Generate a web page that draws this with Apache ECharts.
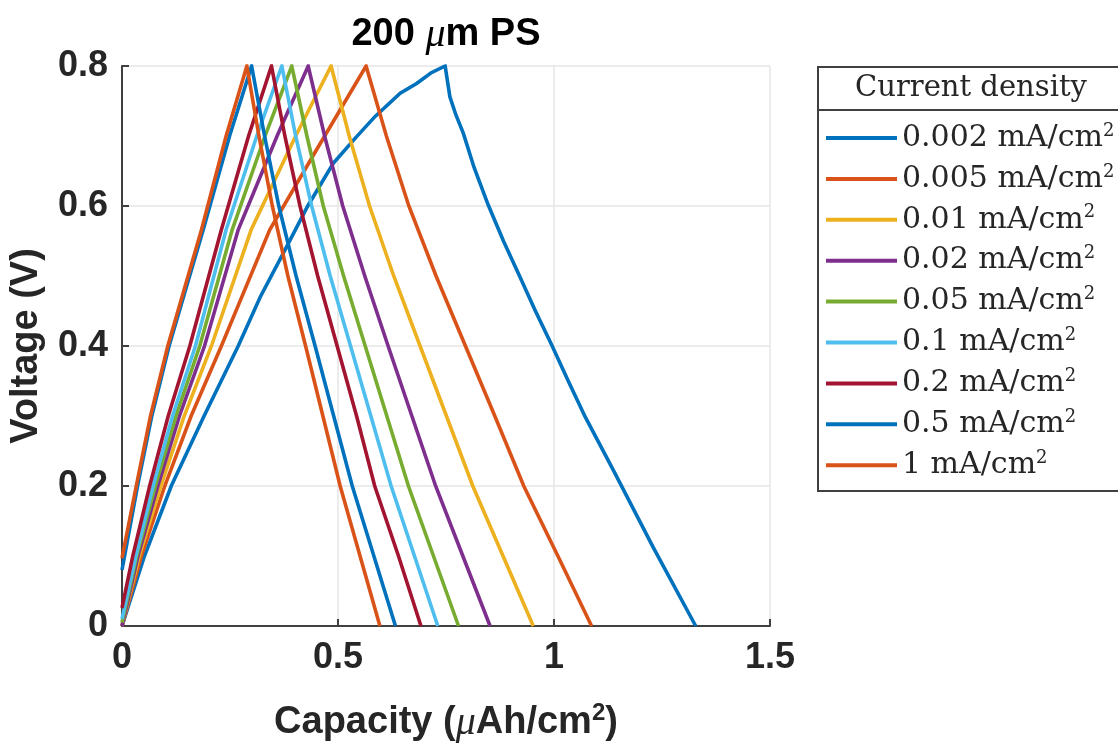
<!DOCTYPE html>
<html>
<head>
<meta charset="utf-8">
<script src="https://cdn.jsdelivr.net/npm/echarts@6/dist/echarts.min.js"></script>
<style>
html,body{margin:0;padding:0;background:#fff;}
#chart{width:1118px;height:746px;}
</style>
</head>
<body>
<div id="chart"></div>
<script>
// Current densities (mA/cm2) shown in the legend
const currentDensities = ['0.002', '0.005', '0.01', '0.02', '0.05', '0.1', '0.2', '0.5', '1'];
const lineColors = ['#0072BD', '#D95319', '#EDB120', '#7E2F8E', '#77AC30', '#4DBEEE', '#A2142F', '#0072BD', '#D95319'];
const xTicks = [0, 0.5, 1, 1.5];
const yTicks = [0, 0.2, 0.4, 0.6, 0.8];

// [capacity (uAh/cm2), voltage (V)] : charge up to 0.8 V then discharge to 0 V
const cd0002 = [[0,0],[0.052,0.1],[0.114,0.2],[0.190,0.3],[0.269,0.4],[0.320,0.47],[0.377,0.537],[0.430,0.6],[0.489,0.661],[0.540,0.697],[0.586,0.728],[0.644,0.761],[0.682,0.775],[0.715,0.79],[0.748,0.8],[0.759,0.756],[0.773,0.73],[0.790,0.704],[0.815,0.655],[0.848,0.601],[0.883,0.55],[0.921,0.499],[0.957,0.45],[0.995,0.401],[1.033,0.35],[1.072,0.299],[1.137,0.223],[1.230,0.112],[1.328,0]];
const cd0005 = [[0,0],[0.045,0.1],[0.099,0.2],[0.160,0.3],[0.230,0.4],[0.342,0.566],[0.450,0.68],[0.565,0.8],[0.612,0.7],[0.664,0.6],[0.727,0.5],[0.795,0.4],[0.863,0.3],[0.930,0.2],[1.009,0.1],[1.087,0]];
const cd001  = [[0,0],[0.040,0.1],[0.090,0.2],[0.144,0.3],[0.207,0.4],[0.299,0.566],[0.402,0.7],[0.484,0.8],[0.526,0.7],[0.573,0.6],[0.629,0.5],[0.690,0.4],[0.751,0.3],[0.812,0.2],[0.882,0.1],[0.952,0]];
const cd002  = [[0,0],[0.037,0.1],[0.083,0.2],[0.133,0.3],[0.191,0.4],[0.269,0.566],[0.359,0.7],[0.431,0.8],[0.469,0.7],[0.511,0.6],[0.562,0.5],[0.616,0.4],[0.671,0.3],[0.726,0.2],[0.789,0.1],[0.852,0]];
const cd005  = [[0,0.005],[0.034,0.1],[0.077,0.2],[0.125,0.3],[0.180,0.4],[0.255,0.566],[0.331,0.7],[0.393,0.8],[0.428,0.7],[0.466,0.6],[0.513,0.5],[0.563,0.4],[0.613,0.3],[0.663,0.2],[0.721,0.1],[0.779,0]];
const cd01   = [[0,0.01],[0.032,0.1],[0.072,0.2],[0.117,0.3],[0.170,0.4],[0.241,0.566],[0.312,0.7],[0.370,0.8],[0.402,0.7],[0.439,0.6],[0.482,0.5],[0.529,0.4],[0.576,0.3],[0.623,0.2],[0.677,0.1],[0.731,0]];
const cd02   = [[0,0.026],[0.025,0.1],[0.064,0.2],[0.107,0.3],[0.157,0.4],[0.230,0.566],[0.293,0.7],[0.346,0.8],[0.377,0.7],[0.412,0.6],[0.453,0.5],[0.498,0.4],[0.543,0.3],[0.585,0.2],[0.640,0.1],[0.692,0]];
const cd05   = [[0,0.08],[0.036,0.2],[0.069,0.3],[0.109,0.4],[0.188,0.566],[0.249,0.7],[0.300,0.8],[0.330,0.7],[0.363,0.6],[0.403,0.5],[0.447,0.4],[0.490,0.3],[0.533,0.2],[0.583,0.1],[0.633,0]];
const cd1    = [[0,0.097],[0.033,0.2],[0.066,0.3],[0.106,0.4],[0.184,0.566],[0.241,0.7],[0.289,0.8],[0.317,0.7],[0.348,0.6],[0.384,0.5],[0.425,0.4],[0.465,0.3],[0.505,0.2],[0.551,0.1],[0.597,0]];
const curves = [cd0002, cd0005, cd001, cd002, cd005, cd01, cd02, cd05, cd1];

const sans = 'Liberation Sans';
const serif = 'DejaVu Serif';
const ink = '#262626';

const chart = echarts.init(document.getElementById('chart'), null, {renderer: 'canvas'});

const series = currentDensities.map((cd, i) => ({
  name: cd + ' mA/cm²',
  type: 'line',
  data: curves[i],
  showSymbol: false,
  symbol: 'none',
  lineStyle: {color: lineColors[i], width: 3.6, join: 'miter'},
  itemStyle: {color: lineColors[i]},
  emphasis: {disabled: true},
  z: 2 + i
}));

chart.setOption({
  animation: false,
  backgroundColor: '#fff',
  grid: {left: 122, right: 348, top: 66, bottom: 120, containLabel: false, outerBoundsMode: 'none'},
  xAxis: {
    type: 'value', min: xTicks[0], max: xTicks[xTicks.length - 1], interval: 0.5,
    axisLine: {show: true, onZero: false, lineStyle: {color: '#404040', width: 2}},
    axisTick: {show: true, inside: true, length: 7, lineStyle: {color: '#404040', width: 2}},
    splitLine: {show: true, lineStyle: {color: '#e6e6e6', width: 1.5}},
    axisLabel: {fontFamily: sans, fontWeight: 'bold', fontSize: 36, color: ink, margin: 14},
    name: '{a|Capacity (}{m|μ}{a|Ah/cm}{s|2}{a|)}',
    nameLocation: 'middle', nameGap: 75,
    nameTextStyle: {
      rich: {
        a: {fontFamily: sans, fontWeight: 'bold', fontSize: 38, color: ink, lineHeight: 44},
        m: {fontFamily: 'Liberation Serif', fontStyle: 'italic', fontSize: 40, color: ink, lineHeight: 44},
        s: {fontFamily: sans, fontWeight: 'bold', fontSize: 24, color: ink, lineHeight: 20, verticalAlign: 'top'}
      }
    }
  },
  yAxis: {
    type: 'value', min: yTicks[0], max: yTicks[yTicks.length - 1], interval: 0.2,
    axisLine: {show: true, lineStyle: {color: '#404040', width: 2}},
    axisTick: {show: true, inside: true, length: 7, lineStyle: {color: '#404040', width: 2}},
    splitLine: {show: true, lineStyle: {color: '#e6e6e6', width: 1.5}},
    axisLabel: {fontFamily: sans, fontWeight: 'bold', fontSize: 36, color: ink, margin: 14},
    name: 'Voltage (V)', nameLocation: 'middle', nameGap: 76, nameRotate: 90,
    nameTextStyle: {fontFamily: sans, fontWeight: 'bold', fontSize: 38, color: ink}
  },
  legend: {
    orient: 'vertical', left: 821, top: 117,
    itemWidth: 71, itemHeight: 4, itemGap: 9.9,
    icon: 'rect', selectedMode: false,
    data: series.map(s => s.name),
    formatter: name => '{n|' + name.replace('²', '') + '}{s|2}',
    textStyle: {
      rich: {
        n: {fontFamily: serif, fontSize: 30, color: ink, lineHeight: 32},
        s: {fontFamily: serif, fontSize: 18, color: ink, lineHeight: 14, verticalAlign: 'top'}
      }
    }
  },
  graphic: [
    {type: 'rect', left: 817, top: 66, shape: {x: 0, y: 0, width: 330, height: 424},
     style: {fill: 'rgba(0,0,0,0)', stroke: '#404040', lineWidth: 2}, z: 1},
    {type: 'line', shape: {x1: 817, y1: 110, x2: 1118, y2: 110}, style: {stroke: '#404040', lineWidth: 2}, z: 1},
    {type: 'text', x: 971, y: 88, style: {text: 'Current density', fontFamily: serif, fontSize: 29, fill: ink, textAlign: 'center', textVerticalAlign: 'middle'}, z: 2},
    {type: 'text', x: 446, y: 35, style: {
      text: '{a|200 }{m|μ}{a|m PS}', textAlign: 'center', textVerticalAlign: 'middle',
      rich: {
        a: {fontFamily: sans, fontWeight: 'bold', fontSize: 38, fill: '#000', lineHeight: 44},
        m: {fontFamily: 'Liberation Serif', fontStyle: 'italic', fontSize: 40, fill: '#000', lineHeight: 44}
      }
    }, z: 2}
  ],
  series: series
});
</script>
</body>
</html>
